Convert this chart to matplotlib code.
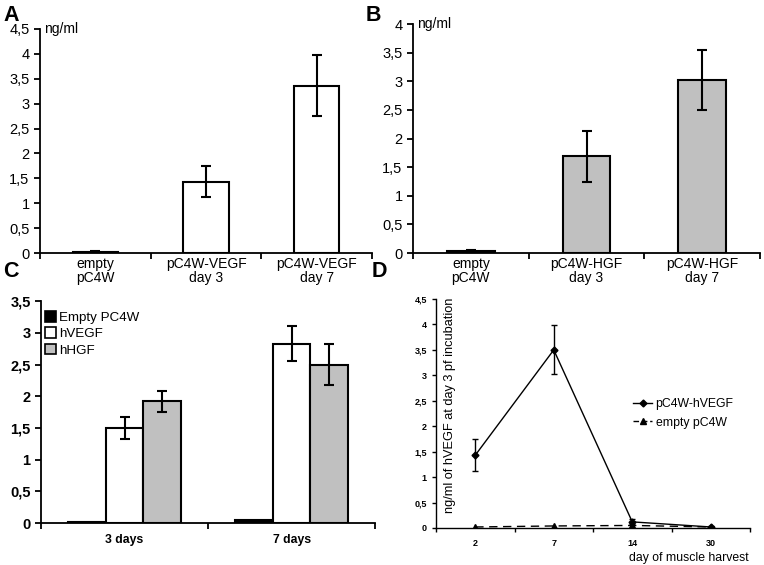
import matplotlib
matplotlib.use("Agg")
import matplotlib.pyplot as plt
import numpy as np
from matplotlib.patches import Patch
from matplotlib.lines import Line2D

plt.rcParams['font.family'] = ['Liberation Sans', 'DejaVu Sans']

# ---- Data ----
a_labels = ["empty\npC4W", "pC4W-VEGF\nday 3", "pC4W-VEGF\nday 7"]
a_values = [0.03, 1.43, 3.36]
a_err_lo = [0.01, 0.31, 0.61]
a_err_hi = [0.01, 0.32, 0.62]

b_labels = ["empty\npC4W", "pC4W-HGF\nday 3", "pC4W-HGF\nday 7"]
b_values = [0.04, 1.70, 3.03]
b_err_lo = [0.02, 0.45, 0.53]
b_err_hi = [0.02, 0.44, 0.52]

c_groups = ["3 days", "7 days"]
c_series = ["Empty PC4W", "hVEGF", "hHGF"]
c_empty = [0.02, 0.05]
c_vegf = [1.50, 2.83]
c_vegf_err = [0.18, 0.28]
c_hgf = [1.92, 2.50]
c_hgf_err = [0.17, 0.33]

d_days = ["2", "7", "14", "30"]
d_series = ["pC4W-hVEGF", "empty pC4W"]
d_vegf = [1.43, 3.50, 0.12, 0.02]
d_vegf_err_lo = [0.31, 0.47, 0.05, 0.01]
d_vegf_err_hi = [0.32, 0.48, 0.06, 0.01]
d_empty = [0.02, 0.04, 0.05, 0.02]

GRAY = "#c0c0c0"

fig = plt.figure(figsize=(7.64, 5.65), dpi=100)


def style_axes(ax, lw=1.3):
    for s in ['top', 'right']:
        ax.spines[s].set_visible(False)
    for s in ['left', 'bottom']:
        ax.spines[s].set_linewidth(lw)
    ax.tick_params(axis='both', direction='out', length=4, width=lw)


def fmt(vals):
    return [("%g" % v).replace('.', ',') for v in vals]


def bar_panel(rect, labels, values, elo, ehi, color, ymax):
    ax = fig.add_axes(rect)
    x = np.arange(len(values))
    ax.bar(x, values, width=0.41, color=color, edgecolor='black', linewidth=1.5, zorder=2)
    ax.errorbar(x, values, yerr=[elo, ehi], fmt='none', ecolor='black',
                elinewidth=1.5, capsize=3.5, capthick=1.5, zorder=3)
    ax.set_xlim(-0.5, len(values) - 0.5)
    ax.set_ylim(0, ymax)
    ax.set_xticks(np.arange(len(values) + 1) - 0.5)
    ax.set_xticklabels([])
    ax.set_xticks(x, minor=True)
    ax.set_xticklabels(labels, minor=True, fontsize=10, linespacing=1.0)
    ax.tick_params(axis='x', which='minor', length=0, pad=3)
    yt = np.arange(0, ymax + 0.01, 0.5)
    ax.set_yticks(yt)
    ax.set_yticklabels(fmt(yt), fontsize=10.5)
    style_axes(ax)
    ax.text(0.012, 1.0, "ng/ml", transform=ax.transAxes, fontsize=10, va='center', ha='left')
    return ax


axA = bar_panel([0.0524, 0.552, 0.4346, 0.397], a_labels, a_values, a_err_lo, a_err_hi,
                'white', 4.5)
axB = bar_panel([0.5406, 0.552, 0.4542, 0.4055], b_labels, b_values, b_err_lo, b_err_hi,
                GRAY, 4.0)

# ---- Panel C ----
axC = fig.add_axes([0.0537, 0.0743, 0.4373, 0.3927])
xg = np.arange(len(c_groups))
w = 0.225
axC.bar(xg - w, c_empty, width=w, color='black', edgecolor='black', linewidth=1.5, zorder=2)
axC.bar(xg, c_vegf, width=w, color='white', edgecolor='black', linewidth=1.5, zorder=2)
axC.bar(xg + w, c_hgf, width=w, color=GRAY, edgecolor='black', linewidth=1.5, zorder=2)
axC.errorbar(xg, c_vegf, yerr=c_vegf_err, fmt='none', ecolor='black', elinewidth=1.5,
             capsize=3.5, capthick=1.5, zorder=3)
axC.errorbar(xg + w, c_hgf, yerr=c_hgf_err, fmt='none', ecolor='black', elinewidth=1.5,
             capsize=3.5, capthick=1.5, zorder=3)
axC.set_xlim(-0.5, 1.5)
axC.set_ylim(0, 3.5)
axC.set_xticks([-0.5, 0.5, 1.5])
axC.set_xticklabels([])
axC.set_xticks(xg, minor=True)
axC.set_xticklabels(c_groups, minor=True, fontsize=8.8, fontweight='bold')
axC.tick_params(axis='x', which='minor', length=0, pad=8)
ytc = np.arange(0, 3.51, 0.5)
axC.set_yticks(ytc)
axC.set_yticklabels(fmt(ytc), fontsize=10.5, fontweight='bold')
style_axes(axC)
handles = [Patch(facecolor='black', edgecolor='black', linewidth=1.2),
           Patch(facecolor='white', edgecolor='black', linewidth=1.2),
           Patch(facecolor=GRAY, edgecolor='black', linewidth=1.2)]
axC.legend(handles, c_series, loc='upper left', bbox_to_anchor=(0.012, 0.955), frameon=False,
           fontsize=9.6, handlelength=0.85, handleheight=0.85, handletextpad=0.2,
           labelspacing=0.25, borderaxespad=0.0, borderpad=0.0)

# ---- Panel D ----
axD = fig.add_axes([0.5707, 0.0655, 0.411, 0.4053])
xd = np.arange(1, len(d_days) + 1)
axD.errorbar(xd, d_vegf, yerr=[d_vegf_err_lo, d_vegf_err_hi], color='black', linewidth=1.0,
             marker='D', markersize=3.5, elinewidth=1.0, capsize=2.5, capthick=1.0, zorder=3)
axD.plot(xd, d_empty, color='black', linestyle=(0, (6, 4)), linewidth=1.0, marker='^',
         markersize=5, zorder=2)
axD.set_xlim(0.5, 4.5)
axD.set_ylim(0, 4.5)
axD.set_xticks(np.arange(0.5, 4.51, 1.0))
axD.set_xticklabels([])
axD.set_xticks(xd, minor=True)
axD.set_xticklabels(d_days, minor=True, fontsize=6.5, fontweight='bold')
axD.tick_params(axis='x', which='minor', length=0, pad=8)
ytd = np.arange(0, 4.51, 0.5)
axD.set_yticks(ytd)
axD.set_yticklabels(fmt(ytd), fontsize=6.5, fontweight='bold')
style_axes(axD, lw=1.0)
axD.tick_params(axis='both', length=3)
axD.text(0.045, 0.535, "ng/ml of hVEGF at day 3 pf incubation", transform=axD.transAxes,
         fontsize=9.2, rotation=90, ha='center', va='center')
axD.text(0.995, -0.105, "day of muscle harvest", transform=axD.transAxes, fontsize=8.8,
         ha='right', va='top')
d_handles = [Line2D([], [], color='black', linewidth=1.0, marker='D', markersize=3.5),
             Line2D([], [], color='black', linewidth=1.0, linestyle=(0, (4, 2)), marker='^',
                    markersize=4.5)]
axD.legend(d_handles, d_series, loc='center left', bbox_to_anchor=(0.627, 0.5), frameon=False,
           fontsize=8.8, handlelength=1.6, handletextpad=0.25, labelspacing=0.5,
           borderpad=0.0, borderaxespad=0.0)

# ---- Panel letters ----
for lbl, xx, yy in [("A", 0.004, 0.992), ("B", 0.479, 0.992), ("C", 0.004, 0.538), ("D", 0.487, 0.538)]:
    fig.text(xx, yy, lbl, fontsize=15.5, fontweight='bold', ha='left', va='top')

fig.savefig("out.png", dpi=100)
